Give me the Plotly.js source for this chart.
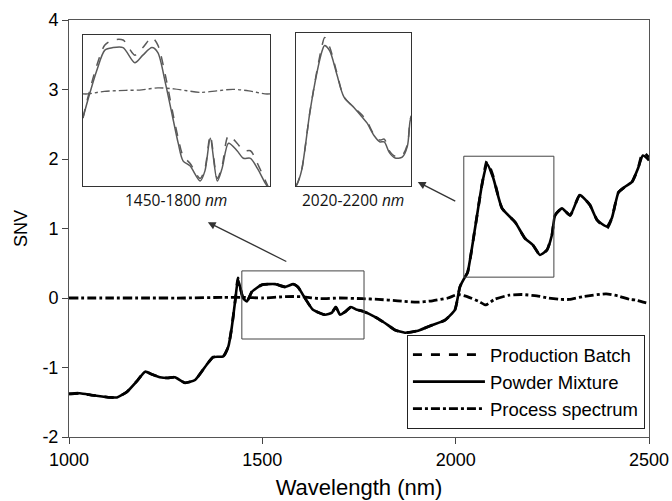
<!DOCTYPE html>
<html><head><meta charset="utf-8">
<script src="https://cdn.plot.ly/plotly-3.0.1.min.js"></script>
<style>html,body{margin:0;padding:0;background:#fff;}#chart{width:672px;height:501px;}</style>
</head><body><div id="chart"></div>
<script>
// ---- main spectra ----
const wavelength = [1000,1028,1062,1090,1106,1124,1150,1175,1197,1215,1235,1255,1274,1300,1326,1356,1373,1399,1412,1421,1430,1437,1445,1450,1460,1473,1499,1533,1559,1580,1592,1610,1631,1662,1680,1690,1701,1714,1729,1745,1760,1791,1817,1843,1869,1903,1939,1972,1998,2011,2024,2031,2050,2068,2081,2097,2120,2154,2179,2200,2218,2236,2249,2257,2275,2296,2321,2347,2366,2391,2404,2421,2438,2456,2472,2484,2497,2500];
const production = [-1.38,-1.37,-1.40,-1.42,-1.43,-1.43,-1.35,-1.20,-1.06,-1.10,-1.14,-1.15,-1.14,-1.22,-1.18,-0.96,-0.85,-0.84,-0.70,-0.42,-0.03,0.29,0.10,0.00,-0.05,0.09,0.19,0.20,0.16,0.20,0.16,0.00,-0.17,-0.24,-0.21,-0.13,-0.24,-0.20,-0.13,-0.17,-0.19,-0.27,-0.36,-0.46,-0.50,-0.47,-0.39,-0.32,-0.17,0.16,0.30,0.37,1.00,1.63,1.97,1.75,1.29,1.09,0.86,0.76,0.62,0.69,0.91,1.19,1.29,1.19,1.48,1.34,1.12,1.00,1.15,1.52,1.60,1.67,1.87,2.10,2.04,2.02];
const powder = [-1.38,-1.37,-1.40,-1.42,-1.43,-1.43,-1.35,-1.20,-1.06,-1.10,-1.14,-1.15,-1.14,-1.22,-1.18,-0.96,-0.85,-0.84,-0.70,-0.42,-0.03,0.27,0.10,0.00,-0.05,0.09,0.19,0.20,0.16,0.20,0.16,0.00,-0.17,-0.24,-0.21,-0.13,-0.24,-0.20,-0.13,-0.17,-0.19,-0.27,-0.36,-0.46,-0.50,-0.47,-0.39,-0.32,-0.17,0.16,0.30,0.37,1.00,1.63,1.93,1.73,1.29,1.09,0.86,0.76,0.62,0.69,0.91,1.19,1.29,1.19,1.48,1.34,1.12,1.03,1.15,1.52,1.60,1.67,1.87,2.05,2.00,1.98];
const processWl = [1000,1100,1200,1300,1400,1450,1500,1560,1600,1650,1700,1760,1800,1850,1900,1940,1980,2005,2030,2060,2078,2100,2138,2172,2210,2240,2270,2294,2330,2389,2420,2450,2466,2485,2500];
const processSpec = [0.00,0.00,0.00,0.00,0.01,0.01,0.00,0.02,0.02,-0.01,0.00,-0.01,-0.02,-0.04,-0.06,-0.04,0.00,0.05,0.02,-0.05,-0.10,-0.02,0.04,0.05,0.03,0.00,-0.02,-0.02,0.02,0.06,0.03,-0.02,-0.03,-0.06,-0.08];

// ---- inset 1: 1450-1800 nm ----
const inset1Wl = [1450,1459,1476,1491,1506,1525,1547,1562,1579,1590,1604,1617,1628,1637,1650,1669,1678,1688,1701,1710,1722,1738,1750,1763,1776,1791,1800];
const inset1Production = [-0.10,-0.02,0.11,0.19,0.21,0.21,0.15,0.18,0.22,0.19,0.07,-0.07,-0.18,-0.25,-0.28,-0.34,-0.30,-0.17,-0.34,-0.29,-0.17,-0.20,-0.23,-0.23,-0.28,-0.35,-0.39];
const inset1Powder = [-0.10,-0.03,0.09,0.17,0.18,0.18,0.12,0.15,0.18,0.16,0.04,-0.09,-0.20,-0.27,-0.29,-0.35,-0.31,-0.18,-0.35,-0.30,-0.20,-0.23,-0.26,-0.26,-0.30,-0.36,-0.39];
const inset1ProcessWl = [1450,1459,1490,1530,1560,1590,1620,1669,1700,1730,1760,1790,1800];
const inset1Process = [-0.004,-0.004,0.006,0.010,0.012,0.020,0.016,0.002,0.008,0.014,0.008,-0.004,-0.004];

// ---- inset 2: 2020-2200 nm ----
const inset2Wl = [2020,2022,2029,2042,2053,2061,2065,2073,2084,2095,2111,2123,2131,2142,2151,2158,2166,2175,2186,2194,2198,2200];
const inset2Production = [0.30,0.32,0.47,1.12,1.58,1.86,1.95,1.84,1.56,1.29,1.17,1.09,1.02,0.87,0.81,0.82,0.69,0.63,0.64,0.76,1.02,1.08];
const inset2Powder = [0.30,0.32,0.47,1.12,1.56,1.80,1.86,1.80,1.54,1.29,1.17,1.07,1.00,0.86,0.79,0.79,0.67,0.61,0.62,0.74,1.01,1.07];

const xTicks = [1000,1500,2000,2500];
const yTicks = [-2,-1,0,1,2,3,4];

const FONT = 'Liberation Sans, Arial, sans-serif';
const insetColor = '#5a5a5a';

const traces = [
  {x: wavelength, y: production, name: 'Production Batch', type: 'scatter', mode: 'lines',
   line: {color: '#000', width: 2.8, dash: 'dash', shape: 'spline', smoothing: 0.5}},
  {x: wavelength, y: powder, name: 'Powder Mixture', type: 'scatter', mode: 'lines',
   line: {color: '#000', width: 2.6, shape: 'spline', smoothing: 0.5}},
  {x: processWl, y: processSpec, name: 'Process spectrum', type: 'scatter', mode: 'lines',
   line: {color: '#000', width: 2.8, dash: 'dashdot', shape: 'spline', smoothing: 0.5}},
  {x: inset1Wl, y: inset1Production, xaxis: 'x2', yaxis: 'y2', mode: 'lines', showlegend: false,
   line: {color: insetColor, width: 1.5, dash: 'dash', shape: 'spline', smoothing: 0.8}},
  {x: inset1Wl, y: inset1Powder, xaxis: 'x2', yaxis: 'y2', mode: 'lines', showlegend: false,
   line: {color: insetColor, width: 1.5, shape: 'spline', smoothing: 0.8}},
  {x: inset1ProcessWl, y: inset1Process, xaxis: 'x2', yaxis: 'y2', mode: 'lines', showlegend: false,
   line: {color: insetColor, width: 1.4, dash: 'dashdot', shape: 'spline', smoothing: 0.8}},
  {x: inset2Wl, y: inset2Production, xaxis: 'x3', yaxis: 'y3', mode: 'lines', showlegend: false,
   line: {color: insetColor, width: 1.5, dash: 'dash', shape: 'spline', smoothing: 0.8}},
  {x: inset2Wl, y: inset2Powder, xaxis: 'x3', yaxis: 'y3', mode: 'lines', showlegend: false,
   line: {color: insetColor, width: 1.5, shape: 'spline', smoothing: 0.8}}
];

const insetAxis = {showline: true, mirror: 'all', linecolor: '#333', linewidth: 1,
  showticklabels: false, ticks: '', showgrid: false, zeroline: false, fixedrange: true};

const layout = {
  width: 672, height: 501,
  margin: {l: 69, r: 23, t: 20, b: 64, pad: 0},
  paper_bgcolor: '#fff', plot_bgcolor: '#fff',
  font: {family: FONT, color: '#000', size: 18},
  showlegend: true,
  xaxis: {range: [1000, 2500], tickvals: xTicks, ticktext: xTicks.map(String),
    ticks: 'outside', ticklen: 6, tickcolor: '#444', showline: true, linecolor: '#555', linewidth: 1,
    mirror: true, showgrid: false, zeroline: false, tickfont: {size: 18, family: FONT},
    title: {text: 'Wavelength (nm)', font: {size: 22, family: FONT}, standoff: 11}},
  yaxis: {range: [-2, 4], tickvals: yTicks, ticktext: yTicks.map(String),
    ticks: 'outside', ticklen: 6, tickcolor: '#444', showline: true, linecolor: '#555', linewidth: 1,
    mirror: true, showgrid: false, zeroline: false, tickfont: {size: 18, family: FONT},
    title: {text: 'SNV', font: {size: 18, family: FONT}, standoff: 10}},
  xaxis2: Object.assign({}, insetAxis, {domain: [0.024, 0.347], range: [1450, 1800], anchor: 'y2'}),
  yaxis2: Object.assign({}, insetAxis, {domain: [0.602, 0.964], range: [-0.37, 0.23], anchor: 'x2'}),
  xaxis3: Object.assign({}, insetAxis, {domain: [0.391, 0.590], range: [2020, 2200], anchor: 'y3'}),
  yaxis3: Object.assign({}, insetAxis, {domain: [0.602, 0.969], range: [0.30, 2.0], anchor: 'x3'}),
  legend: {x: 0.993, y: 0.019, xanchor: 'right', yanchor: 'bottom',
    bgcolor: '#fff', bordercolor: '#222', borderwidth: 1,
    font: {size: 18.5, family: FONT, color: '#000'}, itemwidth: 72, tracegroupgap: 0},
  shapes: [
    {type: 'rect', xref: 'x', yref: 'y', x0: 1447, x1: 1763, y0: -0.59, y1: 0.39,
     line: {color: '#444', width: 1}},
    {type: 'rect', xref: 'x', yref: 'y', x0: 2021, x1: 2254, y0: 0.30, y1: 2.04,
     line: {color: '#444', width: 1}}
  ],
  annotations: [
    {xref: 'x', yref: 'y', x: 1359, y: 1.09, ax: 80, ay: 40, axref: 'pixel', ayref: 'pixel',
     showarrow: true, arrowhead: 2, arrowsize: 1.2, arrowwidth: 1.3, arrowcolor: '#333', text: ''},
    {xref: 'x', yref: 'y', x: 1902, y: 1.67, ax: 39, ay: 20, axref: 'pixel', ayref: 'pixel',
     showarrow: true, arrowhead: 2, arrowsize: 1.2, arrowwidth: 1.3, arrowcolor: '#333', text: ''},
    {xref: 'paper', yref: 'paper', x: 0.184, y: 0.568, xanchor: 'center', yanchor: 'middle', showarrow: false,
     text: '1450-1800 <i>nm</i>', font: {family: 'Open Sans, sans-serif', size: 15.5, color: '#111'}},
    {xref: 'paper', yref: 'paper', x: 0.4905, y: 0.568, xanchor: 'center', yanchor: 'middle', showarrow: false,
     text: '2020-2200 <i>nm</i>', font: {family: 'Open Sans, sans-serif', size: 15.5, color: '#111'}}
  ]
};

Plotly.newPlot('chart', traces, layout, {staticPlot: true, displayModeBar: false});
</script>
</body></html>
